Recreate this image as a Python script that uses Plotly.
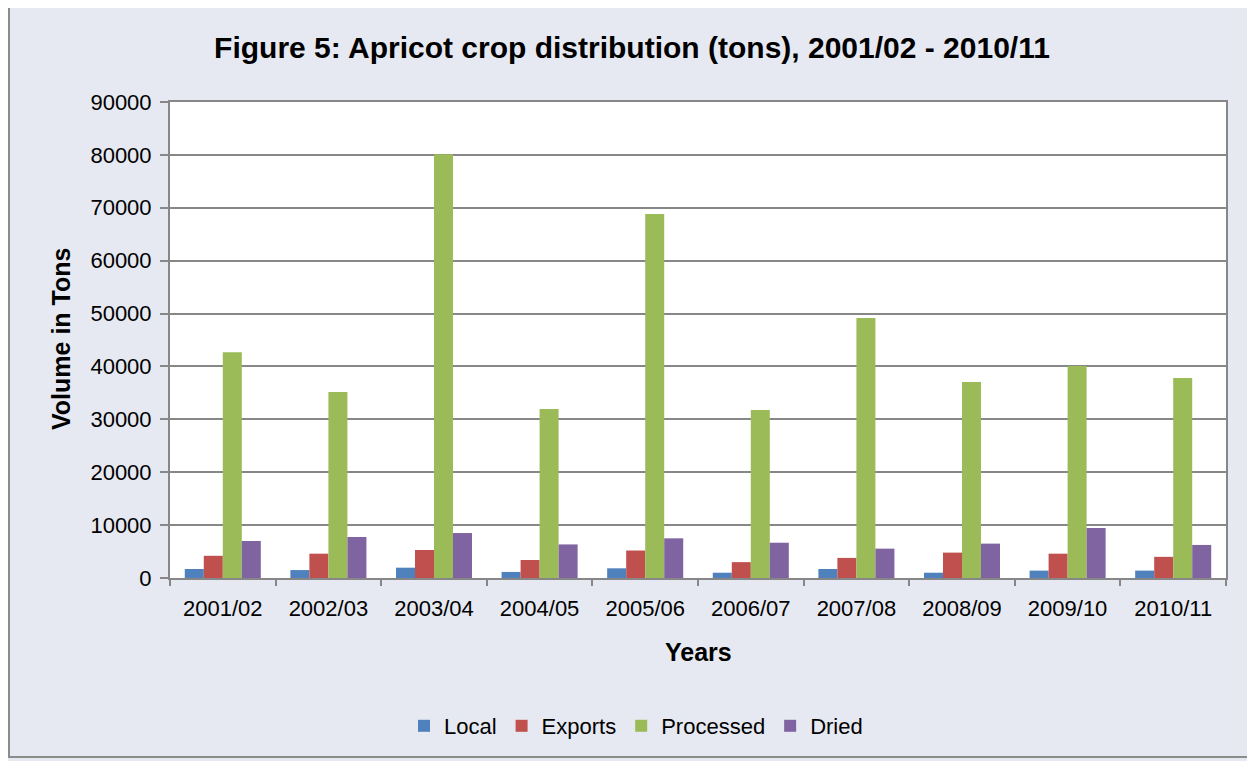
import plotly.graph_objects as go

years = ["2001/02", "2002/03", "2003/04", "2004/05", "2005/06",
         "2006/07", "2007/08", "2008/09", "2009/10", "2010/11"]
local = [1700, 1500, 1950, 1150, 1830, 1000, 1700, 1000, 1400, 1400]
exports = [4200, 4600, 5300, 3400, 5200, 3000, 3800, 4800, 4600, 4000]
processed = [42700, 35150, 80100, 31950, 68800, 31750, 49150, 37050, 40070, 37800]
dried = [7000, 7750, 8500, 6350, 7500, 6670, 5550, 6500, 9450, 6250]

series = [("Local", local, "#4F81BD"),
          ("Exports", exports, "#C0504D"),
          ("Processed", processed, "#9BBB59"),
          ("Dried", dried, "#8064A2")]

fig = go.Figure()
for name, vals, col in series:
    fig.add_bar(x=years, y=vals, name=name, marker_color=col, marker_line_width=0)

# page body has an 8px margin, so the figure is 8px smaller and shifted
W, H, OFF = 1247, 753, 8
PL, PR, PT, PB = 170, 1226, 102, 578   # plot area in screen px
pw, ph = PR - PL, PB - PT


def px(x):
    return (x - PL) / pw


def py(y):
    return (PB - y) / ph


GRID = "#878787"
FONT = "Liberation Sans, Arial"
fig.update_layout(
    width=W, height=H,
    margin=dict(l=PL - OFF, r=W - (PR - OFF), t=PT - OFF, b=H - (PB - OFF), autoexpand=False),
    paper_bgcolor="#E6E9F1",
    plot_bgcolor="white",
    font=dict(family=FONT, size=22, color="black"),
    barmode="group", bargap=0.28, bargroupgap=0,
    showlegend=True,
    legend=dict(orientation="h", x=px(636), xanchor="center", y=py(726), yanchor="middle",
                font=dict(size=22), itemwidth=30, traceorder="normal",
                bgcolor="rgba(0,0,0,0)"),
    title=dict(text="<b>Figure 5: Apricot crop distribution (tons), 2001/02 - 2010/11</b>",
               x=(632 - OFF) / W, xref="container", xanchor="center",
               y=1 - (47 - OFF) / H, yref="container", yanchor="middle", font=dict(size=30)),
)

fig.update_yaxes(range=[0, 90000], dtick=10000, tickformat="d", showgrid=True, gridcolor=GRID,
                 gridwidth=2, showline=True, linecolor=GRID, linewidth=2, mirror=True,
                 ticks="outside", ticklen=8, tickcolor=GRID, tickwidth=2,
                 zeroline=False, ticklabelstandoff=4)
fig.update_xaxes(showline=True, linecolor=GRID, linewidth=2, mirror=True,
                 ticks="outside", ticklen=6, tickcolor=GRID, tickwidth=2,
                 tickson="boundaries", ticklabelstandoff=10)

fig.add_annotation(text="<b>Volume in Tons</b>", textangle=-90, xref="paper", yref="paper",
                   x=px(61), y=py(339), xanchor="center", yanchor="middle",
                   showarrow=False, font=dict(size=25))
fig.add_annotation(text="<b>Years</b>", xref="paper", yref="paper",
                   x=px(698), y=py(652), xanchor="center", yanchor="middle",
                   showarrow=False, font=dict(size=25))

fig.add_shape(type="rect", xref="paper", yref="paper",
              x0=px(9), x1=px(1252), y0=py(757), y1=py(7),
              line=dict(color="#8C8C8C", width=2), layer="below")

fig.write_html("out.html")
